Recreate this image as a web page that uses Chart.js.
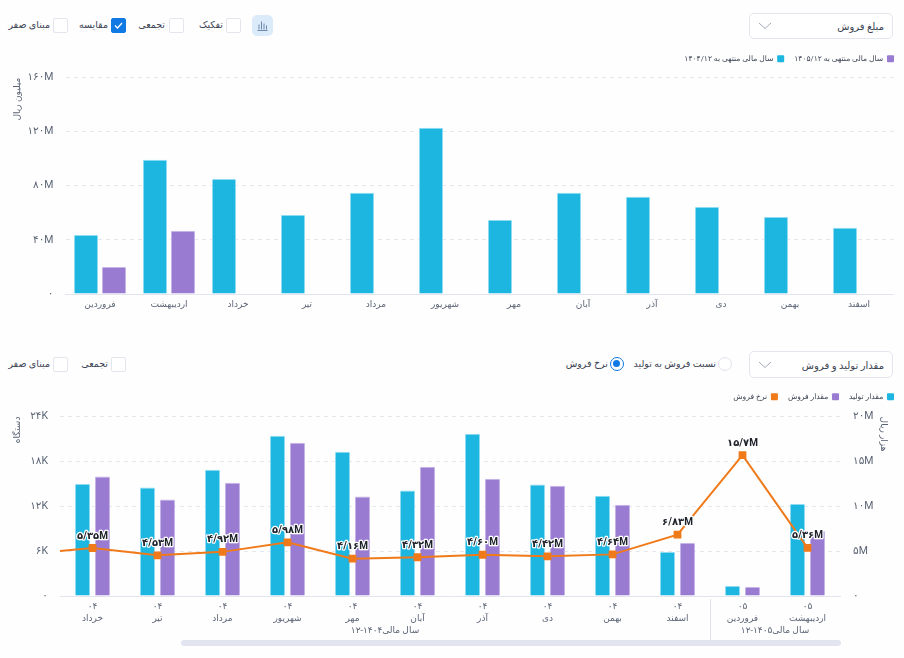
<!DOCTYPE html>
<html lang="fa">
<head>
<meta charset="utf-8">
<title>فروش و تولید</title>
<script src="https://cdn.jsdelivr.net/npm/chart.js@4/dist/chart.umd.min.js"></script>
<style>
  html, body { margin: 0; padding: 0; background: #fefefe; }
  body { position: relative; width: 904px; height: 658px; overflow: hidden;
         font-family: Roboto, "DejaVu Sans", sans-serif; color: #3c4454; font-size: 10px; }
  canvas { position: absolute; left: 0; }
  .ctl { position: absolute; z-index: 2; box-sizing: border-box; }
  .select { border: 1px solid #e4e6ee; border-radius: 5px; background: #fff; left: 749px; width: 144px; }
  .select span { position: absolute; right: 8px; top: 50%; transform: translateY(-50%); font-size: 10px; direction: rtl; white-space: nowrap; }
  .select svg { position: absolute; left: 8px; top: 50%; margin-top: -4px; }
  .box { width: 15px; height: 15px; border: 1px solid #e4e6ee; border-radius: 2px; background: #fff; }
  .box.on { background: #1079e4; border-color: #1079e4; }
  .label { direction: rtl; white-space: nowrap; font-size: 9.5px; line-height: 14px; }
  .radio { width: 14px; height: 14px; border-radius: 50%; border: 1px solid #e0e3ea; background: #fff; }
  .radio.on { border: 1.5px solid #1079e4; }
  .radio.on::after { content: ""; position: absolute; left: 2px; top: 2px; width: 7px; height: 7px; border-radius: 50%; background: #1079e4; }
  .scrollbar { left: 181px; top: 640px; width: 660px; height: 6px; border-radius: 3px; background: #e2e5f0; }
  .iconbtn { left: 252px; top: 15px; width: 21px; height: 21px; border-radius: 5px; background: #dcebfa; }
</style>
</head>
<body>
  <div class="ctl select" style="top:13px;height:26px"><span>مبلغ فروش</span>
    <svg width="14" height="8" viewBox="0 0 14 8"><path d="M1 1l6 5.5L13 1" fill="none" stroke="#a4aaba" stroke-width="1"/></svg></div>
  <div class="ctl iconbtn"><svg width="21" height="21" viewBox="0 0 21 21"><path d="M5.5 15.5h10M7 14.5v-5M9.5 14.5v-8M12 14.5v-6M14.5 14.5v-4" fill="none" stroke="#6d87ad" stroke-width="1"/></svg></div>

  <div class="ctl box" style="left:226px;top:18px"></div><div class="ctl label" style="right:681px;top:18px">تفکیک</div>
  <div class="ctl box" style="left:169px;top:18px"></div><div class="ctl label" style="right:739px;top:18px">تجمعی</div>
  <div class="ctl box on" style="left:111px;top:18px"><svg width="13" height="13" viewBox="0 0 13 13"><path d="M3 6.5l2.5 2.5L10 4" fill="none" stroke="#fff" stroke-width="1.3"/></svg></div><div class="ctl label" style="right:796px;top:18px">مقایسه</div>
  <div class="ctl box" style="left:53px;top:18px"></div><div class="ctl label" style="right:854px;top:18px">مبنای صفر</div>

  <div class="ctl select" style="top:351px;height:27px"><span>مقدار تولید و فروش</span>
    <svg width="14" height="8" viewBox="0 0 14 8"><path d="M1 1l6 5.5L13 1" fill="none" stroke="#a4aaba" stroke-width="1"/></svg></div>
  <div class="ctl radio" style="left:718px;top:357px"></div><div class="ctl label" style="right:188px;top:357px">نسبت فروش به تولید</div>
  <div class="ctl radio on" style="left:610px;top:357px"></div><div class="ctl label" style="right:296px;top:357px">نرخ فروش</div>
  <div class="ctl box" style="left:111px;top:357px"></div><div class="ctl label" style="right:796px;top:357px">تجمعی</div>
  <div class="ctl box" style="left:53px;top:357px"></div><div class="ctl label" style="right:854px;top:357px">مبنای صفر</div>

  <div class="ctl scrollbar"></div>

  <canvas id="salesChart" width="904" height="275" style="top:45px"></canvas>
  <canvas id="volumeChart" width="904" height="263" style="top:383px"></canvas>

<script>
// Monthly sales amount, in millions of rials, for both fiscal years.
const salesMonths = ['فروردین','اردیبهشت','خرداد','تیر','مرداد','شهریور','مهر','آبان','آذر','دی','بهمن','اسفند'];
const sales1404 = [43.7, 99.3, 85, 58.5, 74.8, 123, 54.8, 74.8, 71.9, 64.4, 57, 48.9];
const sales1405 = [20, 46.7, null, null, null, null, null, null, null, null, null, null];
const salesLegend = ['سال مالی منتهی به ۱۴۰۴/۱۲', 'سال مالی منتهی به ۱۴۰۵/۱۲'];

// Production, sales volume (thousand units) and sale rate (million rials per unit).
// The first month sits just left of the scrolled view, only its line segment shows.
const volumeYears = ['۰۴','۰۴','۰۴','۰۴','۰۴','۰۴','۰۴','۰۴','۰۴','۰۴','۰۴','۰۵','۰۵'];
const volumeMonths = ['اردیبهشت','خرداد','تیر','مرداد','شهریور','مهر','آبان','آذر','دی','بهمن','اسفند','فروردین','اردیبهشت'];
const production = [null, 15.0, 14.5, 16.9, 21.45, 19.3, 14.1, 21.7, 14.9, 13.4, 5.9, 1.35, 12.3];
const soldUnits = [null, 16.0, 12.9, 15.15, 20.5, 13.3, 17.3, 15.7, 14.75, 12.2, 7.1, 1.2, 8.7];
const saleRate = [4.7, 5.35, 4.53, 4.92, 5.98, 4.16, 4.32, 4.60, 4.42, 4.64, 6.83, 15.7, 5.36];
const fiscalGroups = [
  { text: 'سال مالی۱۴۰۴-۱۲', first: 1, last: 10 },
  { text: 'سال مالی۱۴۰۵-۱۲', first: 11, last: 12 }
];

const FONT = 'Roboto, "DejaVu Sans", sans-serif';
const CYAN = '#1cb6e0', PURPLE = '#9a7bd2', ORANGE = '#f07a1a';
const TICK = '#5b6475', GRID = '#e6e8ef';

const faDigits = s => String(s).replace(/\d/g, d => '۰۱۲۳۴۵۶۷۸۹'[d]);
const unitTick = unit => v => v === 0 ? '۰' : faDigits(v) + unit;
const rateText = v => faDigits(v.toPrecision(3)).replace('.', '/') + 'M';

// Fixes an axis thickness so that the plot area stays put.
const fixWidth = w => scale => { scale.width = w; };
const fixHeight = h => scale => { scale.height = h; };

const legendOptions = () => ({
  position: 'top', align: 'start', rtl: true, textDirection: 'rtl', reverse: true,
  labels: {
    boxWidth: 7, boxHeight: 7, padding: 10, color: '#3c4454', font: { family: FONT, size: 7.6 },
    sort: (a, b) => a.datasetIndex - b.datasetIndex,
    generateLabels(chart) {
      return Chart.defaults.plugins.legend.labels.generateLabels(chart)
        .map(item => ({ ...item, lineWidth: 0, borderRadius: 1 }));
    },
    useBorderRadius: true, borderRadius: 1
  }
});

// Leaves some air between the legend row and the plot.
const legendGap = {
  id: 'legendGap',
  beforeLayout(chart, args, opts) {
    const legend = chart.legend;
    if (!legend || legend.gapApplied) return;
    const fit = legend.fit;
    legend.fit = function () { fit.call(this); this.height += opts.size; };
    legend.gapApplied = true;
  }
};

// Sale rate captions above each visible marker.
const rateLabels = {
  id: 'rateLabels',
  afterDatasetsDraw(chart) {
    const { ctx, chartArea } = chart;
    const meta = chart.getDatasetMeta(0);
    ctx.save();
    ctx.font = 'bold 10px ' + FONT;
    ctx.textAlign = 'center';
    ctx.textBaseline = 'middle';
    ctx.lineJoin = 'round';
    ctx.lineWidth = 2.5;
    ctx.strokeStyle = '#fff';
    ctx.fillStyle = '#20242c';
    meta.data.forEach((pt, i) => {
      if (pt.x < chartArea.left) return;
      const t = rateText(saleRate[i]);
      ctx.strokeText(t, pt.x, pt.y - 12);
      ctx.fillText(t, pt.x, pt.y - 12);
    });
    ctx.restore();
  }
};

// Fiscal year captions under the month ticks, with a divider between the years.
const fiscalAxis = {
  id: 'fiscalAxis',
  afterDraw(chart) {
    const { ctx, scales: { x }, chartArea } = chart;
    ctx.save();
    ctx.font = '9px ' + FONT;
    ctx.fillStyle = TICK;
    ctx.textAlign = 'center';
    ctx.textBaseline = 'middle';
    ctx.direction = 'rtl';
    fiscalGroups.forEach(g => {
      const mid = (x.getPixelForValue(g.first) + x.getPixelForValue(g.last)) / 2;
      ctx.fillText(g.text, mid, chartArea.bottom + 35);
    });
    const sep = Math.round((x.getPixelForValue(10) + x.getPixelForValue(11)) / 2) + 0.5;
    ctx.strokeStyle = '#dfe2ea';
    ctx.beginPath();
    ctx.moveTo(sep, chartArea.bottom + 3);
    ctx.lineTo(sep, chartArea.bottom + 44);
    ctx.stroke();
    ctx.restore();
  }
};

new Chart(document.getElementById('salesChart'), {
  type: 'bar',
  data: {
    labels: salesMonths,
    datasets: [
      { label: salesLegend[0], data: sales1404, backgroundColor: CYAN, borderColor: '#8fdcf2', borderWidth: 1, borderRadius: 1,
        categoryPercentage: 0.8116, barPercentage: 0.857 },
      { label: salesLegend[1], data: sales1405, backgroundColor: PURPLE, borderColor: '#c5b4e6', borderWidth: 1, borderRadius: 1,
        categoryPercentage: 0.8116, barPercentage: 0.857 }
    ]
  },
  options: {
    responsive: false, animation: false,
    layout: { padding: 0 },
    plugins: { legend: legendOptions(), tooltip: { enabled: false }, legendGap: { size: 5 } },
    scales: {
      x: {
        grid: { display: false, drawTicks: false }, border: { color: '#e2e5ee' },
        afterFit: fixHeight(26),
        ticks: { color: TICK, font: { family: FONT, size: 9 }, padding: 5, maxRotation: 0 }
      },
      y: {
        min: 0, max: 160,
        afterFit: fixWidth(65.5),
        grid: { color: GRID, drawTicks: false }, border: { display: false, dash: [4, 4] },
        title: { display: true, text: 'میلیون ریال', align: 'end', color: TICK, font: { family: FONT, size: 9 }, padding: { top: 12, bottom: 0 } },
        ticks: { stepSize: 40, padding: 12, color: TICK, font: { family: FONT, size: 10.5 }, callback: unitTick('M') }
      },
      // Empty strip that keeps the plot clear of the page's right margin.
      margin: {
        position: 'right', afterFit: fixWidth(10.5),
        grid: { display: false, drawTicks: false }, border: { display: false }, ticks: { display: false }
      }
    }
  },
  plugins: [legendGap]
});

new Chart(document.getElementById('volumeChart'), {
  type: 'bar',
  data: {
    labels: volumeMonths.map((m, i) => [volumeYears[i], m]),
    datasets: [
      { type: 'line', label: 'نرخ فروش', data: saleRate, yAxisID: 'rate', order: 0, borderColor: ORANGE, backgroundColor: ORANGE,
        borderWidth: 2, pointStyle: 'rect', pointRadius: 5.5, pointBorderWidth: 0, tension: 0 },
      { label: 'مقدار فروش', data: soldUnits, yAxisID: 'y', order: 2, backgroundColor: PURPLE, borderColor: '#c5b4e6', borderWidth: 1, borderRadius: 1,
        categoryPercentage: 0.615, barPercentage: 0.75 },
      { label: 'مقدار تولید', data: production, yAxisID: 'y', order: 1, backgroundColor: CYAN, borderColor: '#8fdcf2', borderWidth: 1, borderRadius: 1,
        categoryPercentage: 0.615, barPercentage: 0.75 }
    ]
  },
  options: {
    responsive: false, animation: false,
    layout: { padding: 0 },
    plugins: { legend: legendOptions(), tooltip: { enabled: false }, legendGap: { size: 6 } },
    scales: {
      x: {
        min: 1,
        grid: { display: false, drawTicks: false }, border: { color: '#e2e5ee' },
        afterFit: fixHeight(50),
        ticks: { color: TICK, font: { family: FONT, size: 9, lineHeight: 1.3 }, padding: 5, maxRotation: 0, autoSkip: false }
      },
      y: {
        min: 0, max: 24, position: 'left',
        afterFit: fixWidth(60),
        grid: { color: GRID, drawTicks: false }, border: { display: false, dash: [4, 4] },
        title: { display: true, text: 'دستگاه', align: 'end', color: TICK, font: { family: FONT, size: 9 }, padding: { top: 12, bottom: 0 } },
        ticks: { stepSize: 6, padding: 12, color: TICK, font: { family: FONT, size: 10.5 }, callback: unitTick('K') }
      },
      rate: {
        min: 0, max: 20, position: 'right',
        afterFit: fixWidth(64),
        grid: { display: false, drawTicks: false }, border: { display: false },
        title: { display: true, text: 'هزار ریال', align: 'end', color: TICK, font: { family: FONT, size: 9 }, padding: { top: 15, bottom: 0 } },
        ticks: { stepSize: 5, padding: 13, color: TICK, font: { family: FONT, size: 10.5 }, callback: unitTick('M') }
      }
    }
  },
  plugins: [legendGap, rateLabels, fiscalAxis]
});
</script>
</body>
</html>
